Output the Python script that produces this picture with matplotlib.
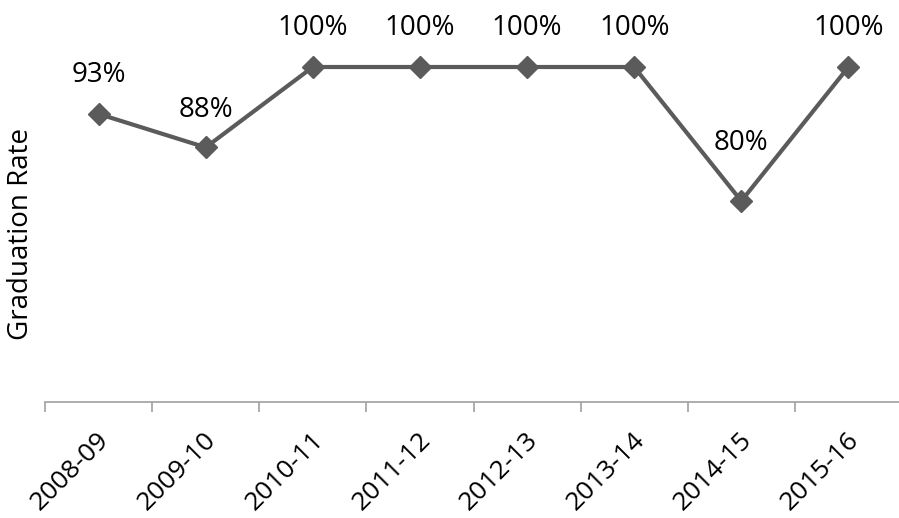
import matplotlib
matplotlib.use("Agg")
import matplotlib.pyplot as plt
import matplotlib.transforms as mtransforms
import numpy as np

years = ["2008-09", "2009-10", "2010-11", "2011-12", "2012-13", "2013-14", "2014-15", "2015-16"]
rates = [93, 88, 100, 100, 100, 100, 80, 100]
labels = ["93%", "88%", "100%", "100%", "100%", "100%", "80%", "100%"]

plt.rcParams["font.family"] = ["Open Sans", "DejaVu Sans"]

fig = plt.figure(figsize=(8.99, 5.18), dpi=100)
ax = fig.add_axes([45 / 899, 116 / 518, 857 / 899, 335 / 518])

x = np.arange(len(years))
line_color = "#5b5b5b"
ax.plot(x, rates, color=line_color, lw=3, marker="D", markersize=11,
        markerfacecolor=line_color, markeredgecolor=line_color, clip_on=False, zorder=3)

# vertical offset (points) of each data label above its marker
label_offsets = [28, 27, 28, 28, 28, 28, 42, 28]
for xi, yi, txt, off in zip(x, rates, labels, label_offsets):
    ax.annotate(txt, (xi, yi), xytext=(0, off), textcoords="offset points",
                ha="center", va="center", fontsize=20, color="#000000")

ax.set_xlim(-0.5, len(years) - 0.5)
ax.set_ylim(50, 100)

for side in ("top", "right", "left"):
    ax.spines[side].set_visible(False)
ax.spines["bottom"].set_color("#a0a0a0")
ax.spines["bottom"].set_linewidth(1.2)
ax.set_yticks([])

ax.set_xticks(x)
ax.set_xticklabels(years, rotation=45, ha="right", va="center", rotation_mode="anchor", fontsize=19)
ax.tick_params(axis="x", which="major", length=0, pad=25)
shift = mtransforms.ScaledTranslation(5 / 72, 0, fig.dpi_scale_trans)
for lbl in ax.get_xticklabels():
    lbl.set_transform(lbl.get_transform() + shift)
ax.set_xticks(np.arange(-0.5, len(years)), minor=True)
ax.tick_params(axis="x", which="minor", length=7, width=1.2, color="#a0a0a0")

ax.set_ylabel("Graduation Rate", fontsize=20)
ax.yaxis.set_label_coords(-10 / 857, 0.5)

fig.savefig("out.png", dpi=100)
